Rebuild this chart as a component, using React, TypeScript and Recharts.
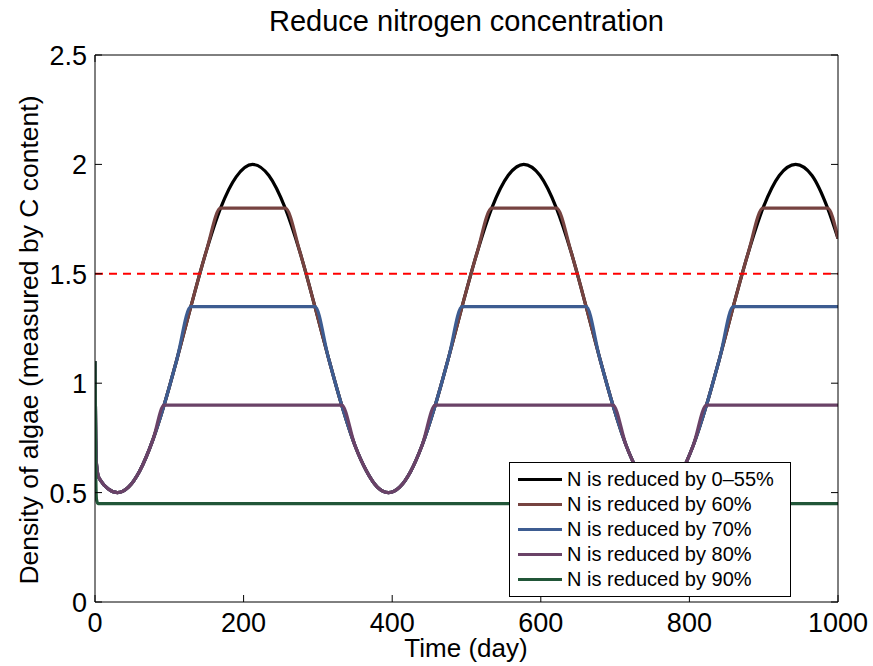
import { LineChart, Line, XAxis, YAxis, ReferenceLine, Legend, Label } from "recharts";

const FONT = "'Liberation Sans', Arial, Helvetica, sans-serif";

const days = [
  0, 1, 2, 4, 8, 18, 30, 45, 60, 78, 93, 110, 129, 150, 169, 190, 212, 234, 256, 276,
  296, 314, 332, 350, 365, 380, 395, 410, 425, 440, 458, 476, 494, 514, 534, 556, 577, 599, 621, 641,
  661, 679, 697, 715, 730, 745, 760, 775, 790, 805, 823, 841, 859, 879, 899, 921, 943, 965, 986, 1000,
];

const reduced0to55 = [
  1.1, 0.75, 0.63, 0.58, 0.553, 0.516, 0.5, 0.525, 0.598, 0.742,
  0.9, 1.106, 1.35, 1.606, 1.8, 1.943, 2.0, 1.949, 1.8, 1.597,
  1.35, 1.118, 0.9, 0.714, 0.601, 0.525, 0.5, 0.525, 0.598, 0.714,
  0.9, 1.118, 1.35, 1.594, 1.8, 1.949, 2.0, 1.949, 1.8, 1.597,
  1.35, 1.118, 0.9, 0.714, 0.601, 0.525, 0.5, 0.525, 0.598, 0.714,
  0.9, 1.118, 1.35, 1.594, 1.8, 1.949, 2.0, 1.949, 1.8, 1.661,
];

const reduced60 = [
  1.1, 0.75, 0.63, 0.58, 0.553, 0.516, 0.5, 0.525, 0.598, 0.742,
  0.9, 1.106, 1.35, 1.606, 1.8, 1.8, 1.8, 1.8, 1.8, 1.597,
  1.35, 1.118, 0.9, 0.714, 0.601, 0.525, 0.5, 0.525, 0.598, 0.714,
  0.9, 1.118, 1.35, 1.594, 1.8, 1.8, 1.8, 1.8, 1.8, 1.597,
  1.35, 1.118, 0.9, 0.714, 0.601, 0.525, 0.5, 0.525, 0.598, 0.714,
  0.9, 1.118, 1.35, 1.594, 1.8, 1.8, 1.8, 1.8, 1.8, 1.661,
];

const reduced70 = [
  1.1, 0.75, 0.63, 0.58, 0.553, 0.516, 0.5, 0.525, 0.598, 0.742,
  0.9, 1.106, 1.35, 1.35, 1.35, 1.35, 1.35, 1.35, 1.35, 1.35,
  1.35, 1.118, 0.9, 0.714, 0.601, 0.525, 0.5, 0.525, 0.598, 0.714,
  0.9, 1.118, 1.35, 1.35, 1.35, 1.35, 1.35, 1.35, 1.35, 1.35,
  1.35, 1.118, 0.9, 0.714, 0.601, 0.525, 0.5, 0.525, 0.598, 0.714,
  0.9, 1.118, 1.35, 1.35, 1.35, 1.35, 1.35, 1.35, 1.35, 1.35,
];

const reduced80 = [
  1.1, 0.75, 0.63, 0.58, 0.553, 0.516, 0.5, 0.525, 0.598, 0.742,
  0.9, 0.9, 0.9, 0.9, 0.9, 0.9, 0.9, 0.9, 0.9, 0.9,
  0.9, 0.9, 0.9, 0.714, 0.601, 0.525, 0.5, 0.525, 0.598, 0.714,
  0.9, 0.9, 0.9, 0.9, 0.9, 0.9, 0.9, 0.9, 0.9, 0.9,
  0.9, 0.9, 0.9, 0.714, 0.601, 0.525, 0.5, 0.525, 0.598, 0.714,
  0.9, 0.9, 0.9, 0.9, 0.9, 0.9, 0.9, 0.9, 0.9, 0.9,
];

const reduced90 = [
  1.1, 0.6, 0.47, 0.45, 0.45, 0.45, 0.45, 0.45, 0.45, 0.45,
  0.45, 0.45, 0.45, 0.45, 0.45, 0.45, 0.45, 0.45, 0.45, 0.45,
  0.45, 0.45, 0.45, 0.45, 0.45, 0.45, 0.45, 0.45, 0.45, 0.45,
  0.45, 0.45, 0.45, 0.45, 0.45, 0.45, 0.45, 0.45, 0.45, 0.45,
  0.45, 0.45, 0.45, 0.45, 0.45, 0.45, 0.45, 0.45, 0.45, 0.45,
  0.45, 0.45, 0.45, 0.45, 0.45, 0.45, 0.45, 0.45, 0.45, 0.45,
];

const seriesKeys = ["n55", "n60", "n70", "n80", "n90"];
const seriesNames = [
  "N is reduced by 0\u201355%",
  "N is reduced by 60%",
  "N is reduced by 70%",
  "N is reduced by 80%",
  "N is reduced by 90%",
];
const seriesColors = ["#000000", "#764340", "#3d5c91", "#6a4267", "#215638"];

const xTicks = [0, 200, 400, 600, 800, 1000];
const yTicks = [0, 0.5, 1, 1.5, 2, 2.5];
const threshold = 1.5;

const data = days.map((day, i) => ({
  day,
  n55: reduced0to55[i],
  n60: reduced60[i],
  n70: reduced70[i],
  n80: reduced80[i],
  n90: reduced90[i],
}));

function BottomTick(props: any) {
  const { x, y, payload } = props;
  return (
    <g>
      <line x1={x} x2={x} y1={y} y2={y - 7} stroke="#000" strokeWidth={1} />
      <text x={x} y={y + 30} textAnchor="middle" fontSize={27} fontFamily={FONT} fill="#000">
        {payload.value}
      </text>
    </g>
  );
}

function TopTick(props: any) {
  const { x, y } = props;
  return <line x1={x} x2={x} y1={y} y2={y + 7} stroke="#000" strokeWidth={1} />;
}

function LeftTick(props: any) {
  const { x, y, payload } = props;
  return (
    <g>
      <line x1={x} x2={x + 7} y1={y} y2={y} stroke="#000" strokeWidth={1} />
      <text x={x - 8} y={y + 10} textAnchor="end" fontSize={27} fontFamily={FONT} fill="#000">
        {String(payload.value)}
      </text>
    </g>
  );
}

function RightTick(props: any) {
  const { x, y } = props;
  return <line x1={x} x2={x - 7} y1={y} y2={y} stroke="#000" strokeWidth={1} />;
}

function LegendBox(props: any) {
  const items = props.payload && props.payload.length
    ? props.payload.map((p: any) => ({ name: p.value, color: p.color }))
    : seriesNames.map((name, i) => ({ name, color: seriesColors[i] }));
  return (
    <div
      style={{
        boxSizing: "border-box",
        width: 282,
        height: 135,
        border: "1.5px solid #000",
        background: "#fff",
        paddingTop: 4,
        paddingLeft: 8,
        fontFamily: FONT,
      }}
    >
      {items.map((it: any) => (
        <div key={it.name} style={{ display: "flex", alignItems: "center", height: 25 }}>
          <div style={{ width: 44, height: 3, background: it.color, marginRight: 5 }} />
          <span style={{ fontSize: 20, color: "#000", whiteSpace: "nowrap" }}>{it.name}</span>
        </div>
      ))}
    </div>
  );
}

export default function App() {
  return (
    <div style={{ position: "absolute", left: 0, top: 0, width: 873, height: 666, background: "#fff", fontFamily: FONT }}>
      <div
        style={{
          position: "absolute",
          left: 0,
          top: 5,
          width: 933,
          textAlign: "center",
          fontSize: 29,
          color: "#000",
          fontFamily: FONT,
        }}
      >
        Reduce nitrogen concentration
      </div>
      <LineChart width={873} height={666} data={data} margin={{ top: 54, right: 34, bottom: 63, left: 94 }}>
        <XAxis
          dataKey="day"
          type="number"
          domain={[0, 1000]}
          ticks={xTicks}
          interval={0}
          allowDataOverflow
          height={1}
          tickSize={0}
          tickMargin={0}
          axisLine={{ stroke: "#000", strokeWidth: 1 }}
          tickLine={false}
          tick={(p: any) => <BottomTick {...p} />}
        >
          <Label
            content={() => (
              <text x={466} y={657} textAnchor="middle" fontSize={26} fontFamily={FONT} fill="#000">
                Time (day)
              </text>
            )}
          />
        </XAxis>
        <XAxis
          xAxisId="top"
          orientation="top"
          type="number"
          domain={[0, 1000]}
          ticks={xTicks}
          interval={0}
          allowDataOverflow
          height={1}
          tickSize={0}
          tickMargin={0}
          axisLine={{ stroke: "#000", strokeWidth: 1 }}
          tickLine={false}
          tick={(p: any) => <TopTick {...p} />}
        />
        <YAxis
          type="number"
          domain={[0, 2.5]}
          ticks={yTicks}
          interval={0}
          allowDataOverflow
          width={1}
          tickSize={0}
          tickMargin={0}
          axisLine={{ stroke: "#000", strokeWidth: 1 }}
          tickLine={false}
          tick={(p: any) => <LeftTick {...p} />}
        >
          <Label
            content={() => (
              <text
                transform="translate(38, 340) rotate(-90)"
                textAnchor="middle"
                fontSize={26.5}
                fontFamily={FONT}
                fill="#000"
              >
                Density of algae (measured by C content)
              </text>
            )}
          />
        </YAxis>
        <YAxis
          yAxisId="right"
          orientation="right"
          type="number"
          domain={[0, 2.5]}
          ticks={yTicks}
          interval={0}
          allowDataOverflow
          width={1}
          tickSize={0}
          tickMargin={0}
          axisLine={{ stroke: "#000", strokeWidth: 1 }}
          tickLine={false}
          tick={(p: any) => <RightTick {...p} />}
        />
        {seriesKeys.map((key, i) => (
          <Line
            key={key}
            type="monotone"
            dataKey={key}
            name={seriesNames[i]}
            stroke={seriesColors[i]}
            strokeWidth={3.2}
            dot={false}
            activeDot={false}
            isAnimationActive={false}
          />
        ))}
        <ReferenceLine y={threshold} stroke="#ff0000" strokeWidth={2} strokeDasharray="8 6" />
        <Legend
          layout="vertical"
          align="center"
          verticalAlign="middle"
          content={(p: any) => <LegendBox {...p} />}
          wrapperStyle={{ left: 509, top: 462, width: 282, height: 135 }}
        />
      </LineChart>
    </div>
  );
}
